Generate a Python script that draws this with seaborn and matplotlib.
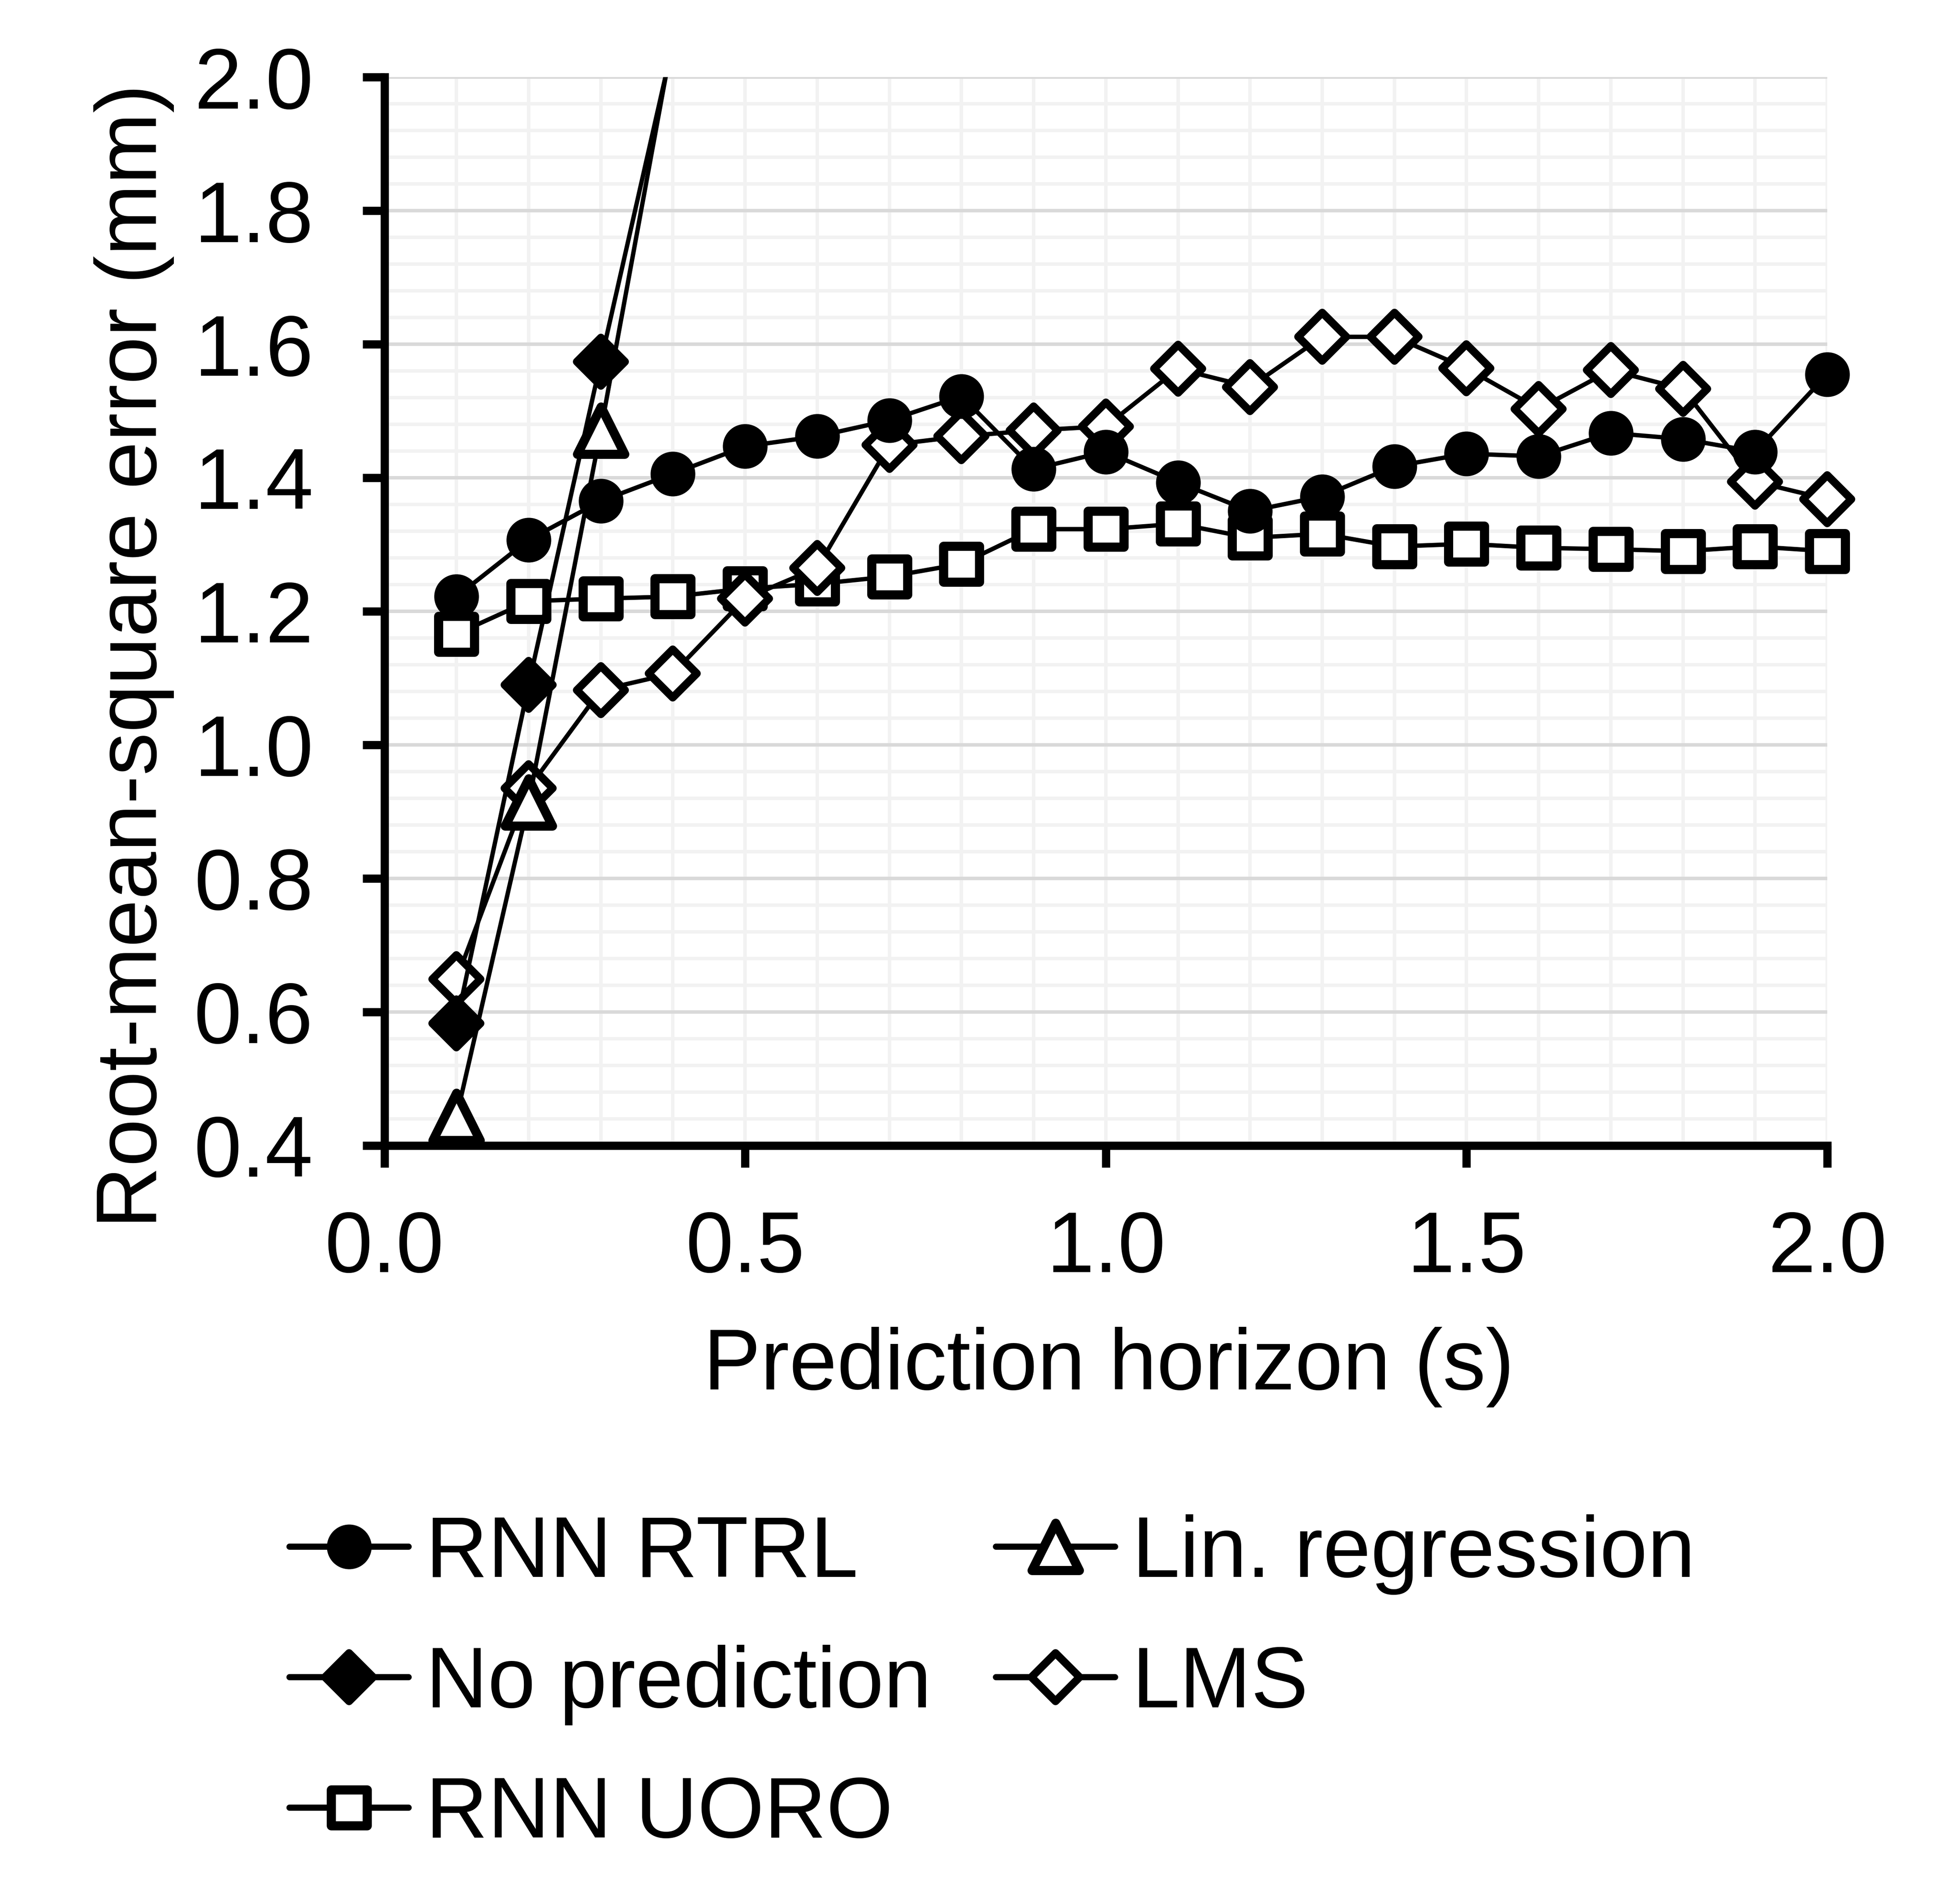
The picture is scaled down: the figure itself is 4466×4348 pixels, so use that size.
import numpy as np
import pandas as pd
import matplotlib.pyplot as plt
import seaborn as sns
from matplotlib.markers import MarkerStyle

# prediction horizon (s)
horizon = [0.1, 0.2, 0.3, 0.4, 0.5, 0.6, 0.7, 0.8, 0.9, 1.0,
           1.1, 1.2, 1.3, 1.4, 1.5, 1.6, 1.7, 1.8, 1.9, 2.0]
short_horizon = [0.1, 0.2, 0.3, 0.4]

# RMSE (mm)
rnn_rtrl = [1.222, 1.307, 1.365, 1.406, 1.447, 1.462, 1.486, 1.522, 1.413, 1.439,
            1.393, 1.350, 1.372, 1.417, 1.436, 1.432, 1.467, 1.458, 1.439, 1.555]
rnn_uoro = [1.166, 1.215, 1.219, 1.222, 1.234, 1.241, 1.252, 1.271, 1.323, 1.323,
            1.331, 1.310, 1.316, 1.297, 1.301, 1.295, 1.293, 1.290, 1.297, 1.290]
lms = [0.649, 0.935, 1.082, 1.107, 1.219, 1.265, 1.449, 1.462, 1.471, 1.477,
       1.563, 1.536, 1.611, 1.611, 1.564, 1.503, 1.561, 1.533, 1.394, 1.368]
no_prediction = [0.583, 1.090, 1.574, 2.05]
lin_regression = [0.443, 0.914, 1.471, 2.06]

labels = ["RNN RTRL", "No prediction", "RNN UORO", "Lin. regression", "LMS"]

sns.set_style("white")
plt.rcParams["font.family"] = ["Liberation Sans", "DejaVu Sans"]
plt.rcParams["text.color"] = "black"
plt.rcParams["axes.labelcolor"] = "black"
plt.rcParams["xtick.color"] = "black"
plt.rcParams["ytick.color"] = "black"
FS = 47

fig = plt.figure(figsize=(4466 / 300, 4348 / 300), dpi=300)
ax = fig.add_axes([0.1965, 0.3984, 0.7377, 0.5611])


def mk(shape):
    return MarkerStyle(shape, joinstyle="round")


common = dict(ax=ax, color="black", linewidth=2.4, markeredgecolor="black",
              errorbar=None, legend=False)

sns.lineplot(x=horizon, y=rnn_uoro, marker=mk("s"), markersize=19.5,
             markeredgewidth=5, markerfacecolor="white", clip_on=False,
             label=labels[2], **common)
sns.lineplot(x=horizon, y=lms, marker=mk("D"), markersize=18.7,
             markeredgewidth=4.3, markerfacecolor="white", clip_on=False,
             label=labels[4], **common)
sns.lineplot(x=horizon, y=rnn_rtrl, marker=mk("o"), markersize=19.5,
             markeredgewidth=5, markerfacecolor="black", clip_on=False,
             label=labels[0], **common)
sns.lineplot(x=short_horizon, y=lin_regression, marker=mk("^"), markersize=26,
             markeredgewidth=5, markerfacecolor="white", clip_on=True,
             label=labels[3], **common)
sns.lineplot(x=short_horizon, y=no_prediction, marker=mk("D"), markersize=18.7,
             markeredgewidth=4.3, markerfacecolor="black", clip_on=True,
             label=labels[1], **common)

ax.set_xlim(0, 2.0)
ax.set_ylim(0.4, 2.0)
ax.set_xticks(np.arange(0, 2.01, 0.5))
ax.set_xticks(np.arange(0, 2.01, 0.1), minor=True)
ax.set_yticks(np.arange(0.4, 2.01, 0.2))
ax.set_yticks(np.arange(0.4, 2.01, 0.04), minor=True)
ax.xaxis.set_major_formatter(plt.FormatStrFormatter("%.1f"))
ax.yaxis.set_major_formatter(plt.FormatStrFormatter("%.1f"))

ax.set_axisbelow(True)
ax.grid(which="major", axis="y", color="#d9d9d9", linewidth=1.9)
ax.grid(which="minor", axis="y", color="#f2f2f2", linewidth=1.9)
ax.grid(which="both", axis="x", color="#f2f2f2", linewidth=1.9)

for side in ["top", "right"]:
    ax.spines[side].set_visible(False)
for side in ["left", "bottom"]:
    ax.spines[side].set_color("black")
    ax.spines[side].set_linewidth(4.5)

ax.tick_params(which="major", direction="out", length=12, width=4.5,
               color="black", labelsize=FS, labelcolor="black",
               left=True, bottom=True)
ax.tick_params(which="minor", length=0)
ax.tick_params(axis="y", pad=27)
ax.tick_params(axis="x", pad=23)

ax.set_xlabel("Prediction horizon (s)", fontsize=FS, color="black")
ax.set_ylabel("Root-mean-square error (mm)", fontsize=FS, color="black")
ax.xaxis.set_label_coords(0.502, -0.170)
ax.yaxis.set_label_coords(-0.1456, 0.458)

handles, labs = ax.get_legend_handles_labels()
lookup = dict(zip(labs, handles))
leg = ax.legend([lookup[l] for l in labels], labels,
                loc="upper left", bbox_to_anchor=(0.148, 0.2047),
                bbox_transform=fig.transFigure, ncol=2, frameon=False,
                fontsize=FS, handlelength=1.39, handletextpad=0.2,
                columnspacing=0.75, labelspacing=0.58, borderpad=0,
                borderaxespad=0)
for t in leg.get_texts():
    t.set_color("black")
for line in leg.get_lines():
    line.set_linewidth(3.4)

fig.savefig("out.png", dpi=300)
